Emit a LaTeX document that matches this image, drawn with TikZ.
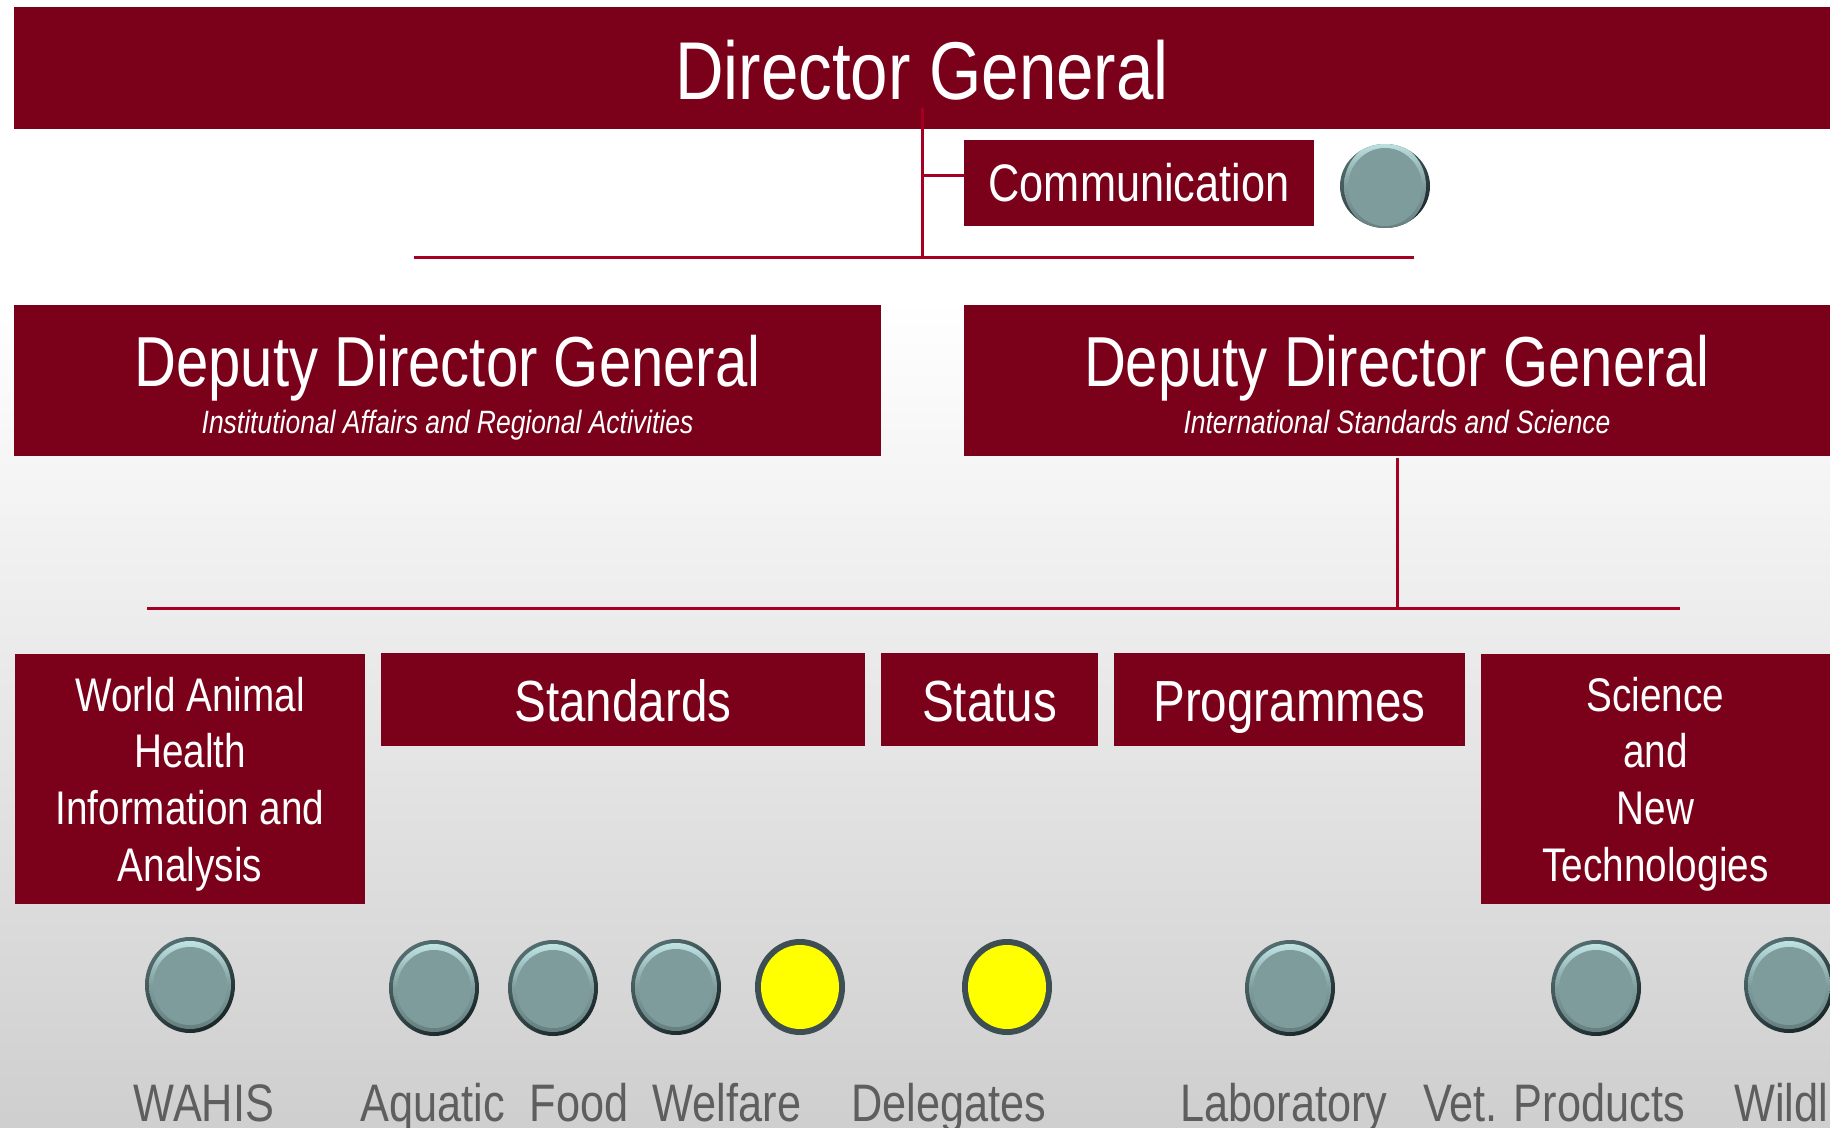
\documentclass[tikz,border=0pt]{standalone}
\usepackage{fontspec}
\setmainfont[FakeStretch=0.82]{Liberation Sans}
\usepackage{tikz}
\usetikzlibrary{positioning}
\usetikzlibrary{shapes.geometric}
\definecolor{boxColor}{rgb}{0.482,0,0.102}
\definecolor{edgeColor}{rgb}{0.647,0,0.129}
\definecolor{labelColor}{rgb}{0.37,0.37,0.37}
\definecolor{lampColor}{rgb}{0.498,0.612,0.612}
\definecolor{lampRim}{rgb}{0.24,0.31,0.32}
\definecolor{lampRimDark}{rgb}{0.10,0.15,0.16}
\definecolor{lampRimLight}{rgb}{0.33,0.43,0.44}
\definecolor{lampGlow}{rgb}{0.75,0.89,0.89}
\definecolor{lampShade}{rgb}{0.40,0.50,0.50}
\definecolor{lampYellow}{rgb}{1,1,0}
\definecolor{floorColor}{rgb}{0.81,0.81,0.81}
\newcommand{\lampFace}[1]{
  \begin{scope}[shift={(path picture bounding box.center)},yscale=#1]
    \shade[top color=lampRimLight, bottom color=lampRimDark, shading angle=35] (0pt,0pt) ellipse (23pt and 24.5pt);
    \shade[top color=lampGlow, bottom color=lampShade, middle color=lampColor] (0pt,0pt) ellipse (20.5pt and 22pt);
    \fill[lampColor] (0pt,-0.5pt) ellipse (18.5pt and 19.5pt);
  \end{scope}
}

\begin{document}
\begin{tikzpicture}[x=0.5pt,y=-0.5pt]

  \tikzstyle{redBox} = [fill=boxColor, text=white, inner sep=0pt, align=center];
  \tikzstyle{hugeText} = [font=\fontsize{41}{44}\selectfont];
  \tikzstyle{midText} = [font=\fontsize{29}{32}\selectfont, text height=27pt, text depth=5pt];
  \tikzstyle{rowText} = [font=\fontsize{23.6}{28.3}\selectfont];
  \tikzstyle{redEdge} = [edgeColor, line width=1.5pt];
  \tikzstyle{greyLamp} = [ellipse, inner sep=0pt, minimum width=45pt, minimum height=48pt,
    path picture={\lampFace{1}}];
  \tikzstyle{flatLamp} = [ellipse, inner sep=0pt, minimum width=45pt, minimum height=42pt,
    path picture={\lampFace{0.875}}];
  \tikzstyle{yellowLamp} = [ellipse, inner sep=0pt, minimum width=45pt, minimum height=48pt,
    fill=lampRim, path picture={
      \fill[lampYellow] (path picture bounding box.center) ellipse (19.5pt and 21pt);
    }];
  \tikzstyle{lampLabel} = [labelColor, anchor=base, inner sep=0pt, font=\fontsize{26.4}{30}\selectfont];

  \useasboundingbox (0,0) rectangle (1830,1128);
  \shade[top color=white, bottom color=floorColor] (0,300) rectangle (1830,1128);

  \node[redBox, hugeText, minimum width=908pt, minimum height=61pt] (director) at (922,68) {\rule{0pt}{32pt}Director General};
  \node[redBox, font=\fontsize{26.4}{30}\selectfont, minimum width=175pt, minimum height=43pt] (communication) at (1139,183) {Communication};
  \node[flatLamp] (communicationLamp) at (1385,186) {};

  \coordinate (directorStem) at (922,108);
  \coordinate (directorJoin) at (922,258);
  \coordinate (upperBarLeft) at (414,258);
  \coordinate (upperBarRight) at (1414,258);
  \coordinate (communicationTap) at (964,176);
  \draw[redEdge] (directorStem) -- (directorJoin);
  \draw[redEdge] (upperBarLeft) -- (upperBarRight);
  \draw[redEdge] (directorJoin |- communicationTap) -- (communicationTap);

  \node[redBox, minimum width=433.5pt, minimum height=75pt] (deputyLeft) at (447.5,380.5)
    {\fontsize{35.4}{40}\selectfont\rule{0pt}{35.6pt}Deputy Director General\\[0.8pt]\fontsize{16.15}{20}\selectfont\itshape\strut Institutional Affairs and Regional Activities};
  \node[redBox, minimum width=433pt, minimum height=75pt] (deputyRight) at (1397,380.5)
    {\fontsize{35.4}{40}\selectfont\rule{0pt}{35.6pt}Deputy Director General\\[0.8pt]\fontsize{16.15}{20}\selectfont\itshape\strut International Standards and Science};

  \coordinate (lowerJoin) at (1397,608);
  \coordinate (lowerBarLeft) at (147,608);
  \coordinate (lowerBarRight) at (1680,608);
  \draw[redEdge, shorten <=1pt] (deputyRight.south) -- (lowerJoin);
  \draw[redEdge] (lowerBarLeft) -- (lowerBarRight);

  \node[redBox, rowText, minimum width=175pt, minimum height=125pt] (wahis) at (190,778.5) {\rule{0pt}{22.5pt}World Animal\\Health\\Information and\\Analysis};
  \node[redBox, midText, minimum width=242pt, minimum height=46.5pt] (standards) at (623,699.5) {Standards};
  \node[redBox, midText, minimum width=108.5pt, minimum height=46.5pt] (status) at (989.5,699.5) {Status};
  \node[redBox, midText, minimum width=175.5pt, minimum height=46.5pt] (programmes) at (1289.5,699.5) {Programmes};
  \node[redBox, rowText, minimum width=174.5pt, minimum height=125pt] (science) at (1655.5,778.5) {\rule{0pt}{22.5pt}Science\\and\\New\\Technologies};

  \node[greyLamp] (wahisLamp) at (190,985) {};
  \node[greyLamp] (aquaticLamp) at (434,988) {};
  \node[greyLamp] (foodLamp) at (553,988) {};
  \node[greyLamp] (welfareLamp) at (676,987) {};
  \node[yellowLamp] (standardsLamp) at (800,987) {};
  \node[yellowLamp] (delegatesLamp) at (1007,987) {};
  \node[greyLamp] (laboratoryLamp) at (1290,988) {};
  \node[greyLamp] (productsLamp) at (1596,988) {};
  \node[greyLamp] (wildLamp) at (1789,985) {};

  \node[lampLabel] (wahisText) at (204,1121) {WAHIS};
  \node[lampLabel] (aquaticText) at (433,1121) {Aquatic};
  \node[lampLabel] (foodText) at (579,1121) {Food};
  \node[lampLabel] (welfareText) at (727,1121) {Welfare};
  \node[lampLabel] (delegatesText) at (949,1121) {Delegates};
  \node[lampLabel] (laboratoryText) at (1284,1121) {Laboratory};
  \node[lampLabel] (productsText) at (1554,1121) {Vet. Products};
  \node[lampLabel, anchor=base west] (wildText) at (1734,1121) {Wildl};
\end{tikzpicture}
\end{document}
